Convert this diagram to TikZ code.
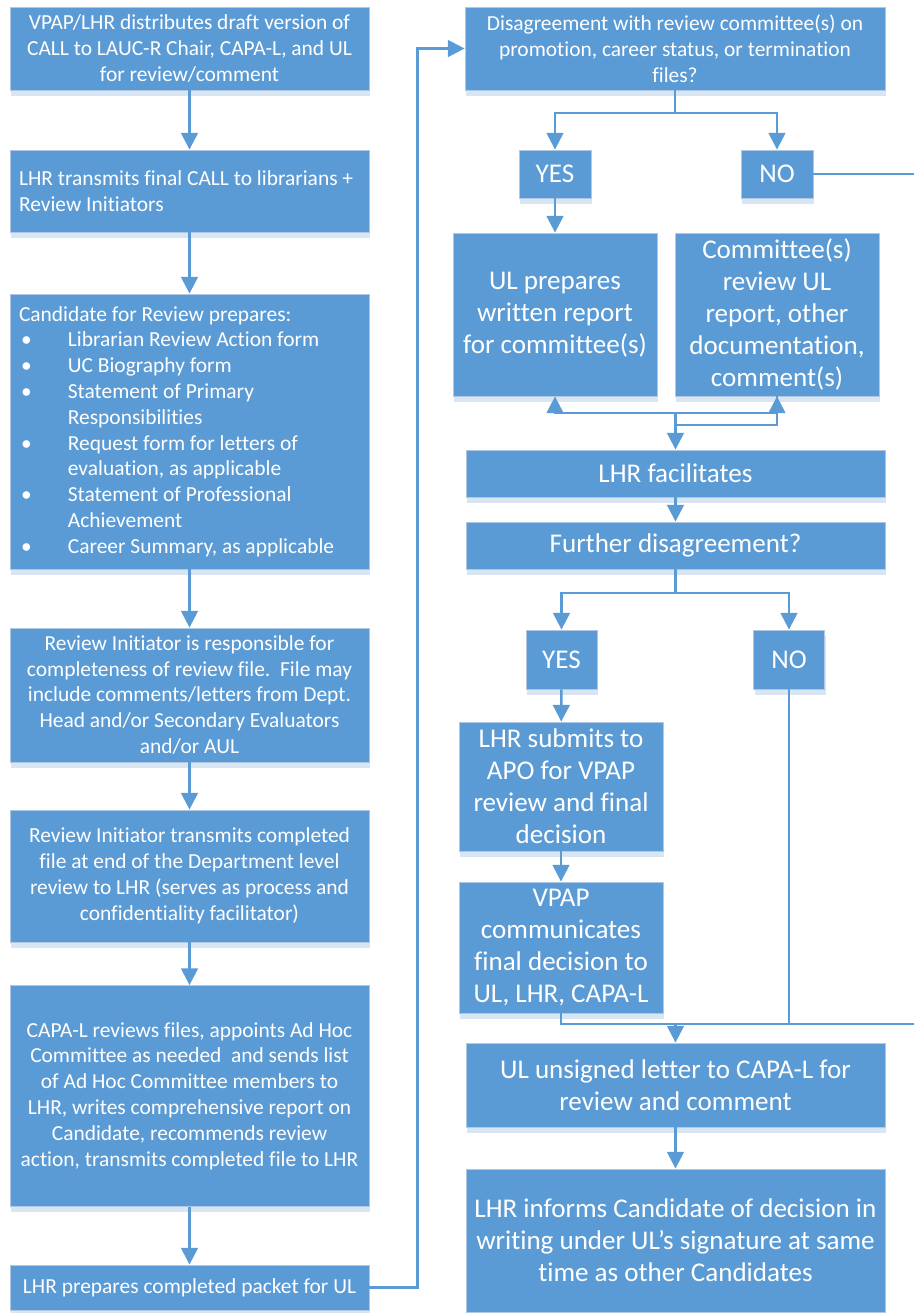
\documentclass[tikz,border=0pt]{standalone}
\usepackage{fontspec}
\setmainfont{Carlito}[Ligatures=NoCommon]
\usepackage[]{tikz}
\usetikzlibrary{positioning,arrows.meta,shadows}
\definecolor{boxblue}{RGB}{91,155,213}
\definecolor{shadeblue}{RGB}{216,229,243}
\definecolor{rimblue}{RGB}{176,200,228}
\newcommand{\itm}{\makebox[27.8pt][l]{\hspace*{1.2pt}\textbullet}}
\newcommand{\ind}{\hspace*{27.8pt}}

\begin{document}
\begin{tikzpicture}[x=0.02cm,y=-0.02cm, % 像素坐标, y 向下
  box/.style={fill=boxblue,draw=rimblue,line width=0.5pt,text=white,inner sep=0pt,align=center,
    drop shadow={shadow xshift=0.6pt,shadow yshift=-3.2pt,fill=shadeblue,opacity=1}},
  smalltxt/.style={font=\fontsize{12.2}{14.7}\selectfont},
  bigtxt/.style={font=\fontsize{15.4}{18.2}\selectfont},
  line/.style={draw=boxblue,line width=1.4pt},
  arr/.style={line,-{Triangle[width=9.5pt,length=9.5pt]}}]
        \useasboundingbox (0,0) rectangle (914,1313);
        % 左列
        \node[box,smalltxt,minimum width=7.18cm,minimum height=1.66cm] (draft) at (189.5,48.5)
          {VPAP/LHR distributes draft version of\\CALL to LAUC-R Chair, CAPA-L, and UL\\for review/comment};
        \node[box,smalltxt,minimum width=7.18cm,minimum height=1.64cm,text width=6.82cm,align=flush left] (final) at (189.5,191)
          {\mbox{LHR transmits final CALL to librarians +}\\Review Initiators};
        \node[box,smalltxt,minimum width=7.18cm,minimum height=5.5cm,text width=6.82cm,align=flush left] (prep) at (189.5,431.5)
          {Candidate for Review prepares:\\
           \itm Librarian Review Action form\\
           \itm UC Biography form\\
           \itm Statement of Primary\\
           \ind Responsibilities\\
           \itm Request form for letters of\\
           \ind evaluation, as applicable\\
           \itm Statement of Professional\\
           \ind Achievement\\
           \itm Career Summary, as applicable};
        \node[box,smalltxt,minimum width=7.18cm,minimum height=2.68cm] (resp) at (189.5,695)
          {Review Initiator is responsible for\\completeness of review file.\ \ File may\\include comments/letters from Dept.\\Head and/or Secondary Evaluators\\and/or AUL};
        \node[box,smalltxt,minimum width=7.18cm,minimum height=2.64cm] (dept) at (189.5,876)
          {Review Initiator transmits completed\\file at end of the Department level\\review to LHR (serves as process and\\confidentiality facilitator)};
        \node[box,smalltxt,minimum width=7.18cm,minimum height=4.42cm] (capa) at (189.5,1096)
          {CAPA-L reviews files, appoints Ad Hoc\\Committee as needed\ \ and sends list\\of Ad Hoc Committee members to\\LHR, writes comprehensive report on\\Candidate, recommends review\\action, transmits completed file to LHR};
        \node[box,smalltxt,minimum width=7.18cm,minimum height=0.9cm] (packet) at (189.5,1287.5)
          {LHR prepares completed packet for UL};
        % 右列
        \node[box,smalltxt,minimum width=8.4cm,minimum height=1.66cm] (disag) at (675,48.5)
          {Disagreement with review committee(s) on\\promotion, career status, or termination\\files?};
        \node[box,bigtxt,minimum width=1.44cm,minimum height=0.96cm] (yesA) at (555,174) {YES};
        \node[box,bigtxt,minimum width=1.44cm,minimum height=0.96cm] (noA) at (777,174) {NO};
        \node[box,bigtxt,minimum width=4.08cm,minimum height=3.26cm] (ulrep) at (555,314.5)
          {UL prepares\\written report\\for committee(s)};
        \node[box,bigtxt,minimum width=4.08cm,minimum height=3.26cm] (comm) at (777,314.5)
          {Committee(s)\\review UL\\report, other\\documentation,\\comment(s)};
        \node[box,bigtxt,minimum width=8.38cm,minimum height=0.94cm] (facil) at (675.5,473.5) {LHR facilitates};
        \node[box,bigtxt,minimum width=8.38cm,minimum height=0.94cm] (further) at (675.5,545.5) {Further disagreement?};
        \node[box,bigtxt,minimum width=1.42cm,minimum height=1.18cm] (yesB) at (561.5,659.5) {YES};
        \node[box,bigtxt,minimum width=1.42cm,minimum height=1.18cm] (noB) at (789,659.5) {NO};
        \node[box,bigtxt,minimum width=4.08cm,minimum height=2.58cm] (apo) at (561,786.5)
          {LHR submits to\\APO for VPAP\\review and final\\decision};
        \node[box,bigtxt,minimum width=4.08cm,minimum height=2.62cm] (vpap) at (561,947.5)
          {VPAP\\communicates\\final decision to\\UL, LHR, CAPA-L};
        \node[box,bigtxt,minimum width=8.38cm,minimum height=1.68cm] (unsigned) at (675.5,1085)
          {UL unsigned letter to CAPA-L for\\review and comment};
        \node[box,bigtxt,minimum width=8.38cm,minimum height=2.86cm] (inform) at (675.5,1240.5)
          {LHR informs Candidate of decision in\\writing under UL’s signature at same\\time as other Candidates};

        \coordinate (splitA) at (675,113);
        \coordinate (backA) at (676,413);
        \coordinate (backB) at (676,425);
        \coordinate (splitB) at (675.5,593);
        \coordinate (merge) at (675.5,1024);
        \coordinate (edgeA) at (914,174);
        \coordinate (edgeB) at (914,1024);

        % 左列箭头
        \draw[arr] (draft) -- (final);
        \draw[arr] (final) -- (prep);
        \draw[arr] (prep) -- (resp);
        \draw[arr] (resp) -- (dept);
        \draw[arr] (dept) -- (capa);
        \draw[arr] (capa) -- (packet);
        \draw[arr] (packet.east) -- ++(48,0) |- (disag.west);
        % 右列箭头
        \draw[line] (disag.south) -- (splitA);
        \draw[arr] (splitA) -| (yesA.north);
        \draw[arr] (splitA) -| (noA.north);
        \draw[line] (noA.east) -- (edgeA);
        \draw[arr] (yesA) -- (ulrep);
        \draw[arr] (backA) -| (ulrep.south);
        \draw[arr] (backA) -| (comm.south);
        \draw[line] (backB) -| (comm.south);
        \draw[arr] (facil.north |- backA) -- (facil.north);
        \draw[arr] (facil) -- (further);
        \draw[line] (further.south) -- (splitB);
        \draw[arr] (splitB) -| (yesB.north);
        \draw[arr] (splitB) -| (noB.north);
        \draw[arr] (yesB) -- (apo);
        \draw[arr] (apo) -- (vpap);
        \draw[line] (noB.south) -- (noB.south |- merge);
        \draw[line] (vpap.south) |- (edgeB);
        \draw[arr] (merge) -- (unsigned);
        \draw[arr] (unsigned) -- (inform);
\end{tikzpicture}
\end{document}
